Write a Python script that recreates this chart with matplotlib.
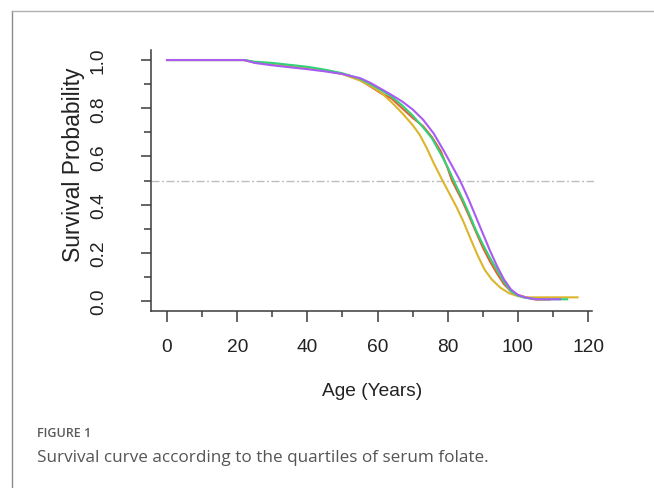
import matplotlib
matplotlib.use("Agg")
import matplotlib.pyplot as plt
from matplotlib.lines import Line2D
from matplotlib.ticker import MultipleLocator

plt.rcParams['font.family'] = ['Liberation Sans', 'DejaVu Sans']
plt.rcParams['lines.scale_dashes'] = False

# Survival curves, by quartile of serum folate
q1_age = [0, 22, 25, 30, 35, 40, 45, 50, 55, 58, 61, 64, 67, 70, 73, 75.5, 78, 80, 81.2, 84, 86, 88, 90, 92, 94, 96, 98, 100, 103, 105, 109]
q1_surv = [1.0, 1.0, 0.99, 0.983, 0.975, 0.966, 0.956, 0.942, 0.917, 0.89, 0.862, 0.84, 0.8, 0.76, 0.725, 0.68, 0.622, 0.55, 0.5, 0.42, 0.355, 0.288, 0.222, 0.165, 0.115, 0.07, 0.04, 0.025, 0.012, 0.006, 0.006]

q2_age = [0, 22, 25, 30, 35, 40, 45, 50, 55, 58, 61, 64, 67, 70, 72, 74, 76, 78.5, 80.5, 82.5, 84.5, 86.5, 88.5, 90.5, 92.5, 95, 97.5, 100, 103, 117]
q2_surv = [1.0, 1.0, 0.99, 0.985, 0.977, 0.968, 0.957, 0.943, 0.915, 0.893, 0.865, 0.825, 0.78, 0.73, 0.69, 0.635, 0.572, 0.5, 0.445, 0.39, 0.328, 0.258, 0.19, 0.13, 0.09, 0.055, 0.032, 0.02, 0.015, 0.015]

q3_age = [0, 22, 25, 30, 35, 40, 45, 50, 55, 58, 61, 64, 67, 70, 73, 75.5, 78, 80, 81.7, 84, 86, 88, 90, 92, 94, 96, 98, 100, 102, 106, 114]
q3_surv = [1.0, 1.0, 0.993, 0.988, 0.98, 0.972, 0.96, 0.945, 0.922, 0.9, 0.875, 0.848, 0.812, 0.77, 0.72, 0.675, 0.61, 0.555, 0.5, 0.43, 0.365, 0.295, 0.235, 0.18, 0.13, 0.08, 0.04, 0.022, 0.013, 0.007, 0.007]

q4_age = [0, 22, 25, 30, 35, 40, 45, 50, 55, 58, 61, 64, 67, 70, 73, 76, 79, 82, 83.5, 86, 88, 90, 92, 94, 96, 98, 100, 102, 105, 112]
q4_surv = [1.0, 1.0, 0.988, 0.978, 0.97, 0.962, 0.953, 0.942, 0.925, 0.905, 0.88, 0.855, 0.828, 0.795, 0.752, 0.695, 0.62, 0.54, 0.5, 0.42, 0.35, 0.28, 0.21, 0.146, 0.09, 0.048, 0.025, 0.015, 0.007, 0.007]

colors = ['#E2612F', '#DDB52C', '#33D27A', '#A95BF2']

W, H = 654, 489
fig = plt.figure(figsize=(W / 100, H / 100), dpi=100)
fig.patch.set_facecolor('white')

# plot region in pixels (R style, 4% padding)
left, right, top, bottom = 150.6, 594, 51.4, 311.6
ax = fig.add_axes([left / W, 1 - bottom / H, (right - left) / W, (bottom - top) / H])

curves = [(q1_age, q1_surv), (q2_age, q2_surv), (q3_age, q3_surv), (q4_age, q4_surv)]
for (a, s), c in zip(curves, colors):
    ax.plot(a, s, color=c, lw=1.5, solid_joinstyle='round')

ax.axhline(0.5, color='#bdbdbd', lw=1.0, linestyle=(0, (5.8, 1.8, 1.4, 1.8)), zorder=0)

ax.set_xlim(-4.68, 121.68)
ax.set_ylim(-0.04, 1.04)

for side in ['top', 'right']:
    ax.spines[side].set_visible(False)
for side in ['left', 'bottom']:
    ax.spines[side].set_color('#3a3a3a')
    ax.spines[side].set_linewidth(1.1)
ax.spines['bottom'].set_bounds(-4.68, 121.0)

ax.xaxis.set_minor_locator(MultipleLocator(10))
ax.yaxis.set_minor_locator(MultipleLocator(0.1))
ax.set_xticks([0, 20, 40, 60, 80, 100, 120])
ax.set_yticks([0, 0.2, 0.4, 0.6, 0.8, 1.0])
ax.set_yticklabels(['0.0', '0.2', '0.4', '0.6', '0.8', '1.0'], rotation=90, va='center')

ax.tick_params(axis='x', which='major', length=8, width=1.1, color='#3a3a3a',
               labelsize=13.8, labelcolor='#222222', pad=11.5)
ax.tick_params(axis='x', which='minor', length=4.5, width=1.1, color='#3a3a3a')
ax.tick_params(axis='y', which='major', length=7, width=1.1, color='#3a3a3a',
               labelsize=13.8, labelcolor='#222222', pad=24.5)
ax.tick_params(axis='y', which='minor', length=5, width=1.1, color='#3a3a3a')

ax.set_xlabel('Age (Years)', fontsize=13.8, color='#222222', labelpad=20)
ax.set_ylabel('Survival Probability', fontsize=16.5, color='#222222')
ax.yaxis.set_label_coords((85 - left) / (right - left), 1 - (165 - top) / (bottom - top))

# frame of the figure panel
fig.add_artist(Line2D([12 / W, 12 / W], [0, 1 - 12 / H], transform=fig.transFigure,
                      color='#8c8c8c', lw=1.0))
fig.add_artist(Line2D([12 / W, 1], [1 - 12 / H, 1 - 12 / H], transform=fig.transFigure,
                      color='#b0b0b0', lw=1.0))

fig.text(37 / W, 1 - 434 / H, 'FIGURE 1', fontsize=9.0, color='#5a5a5a', weight='semibold',
         family=['Open Sans', 'DejaVu Sans'], va='center', ha='left')
fig.text(37 / W, 1 - 458 / H, 'Survival curve according to the quartiles of serum folate.',
         fontsize=12.3, color='#555555', family=['Open Sans', 'DejaVu Sans'],
         va='center', ha='left')

fig.savefig('out.png', dpi=100)
